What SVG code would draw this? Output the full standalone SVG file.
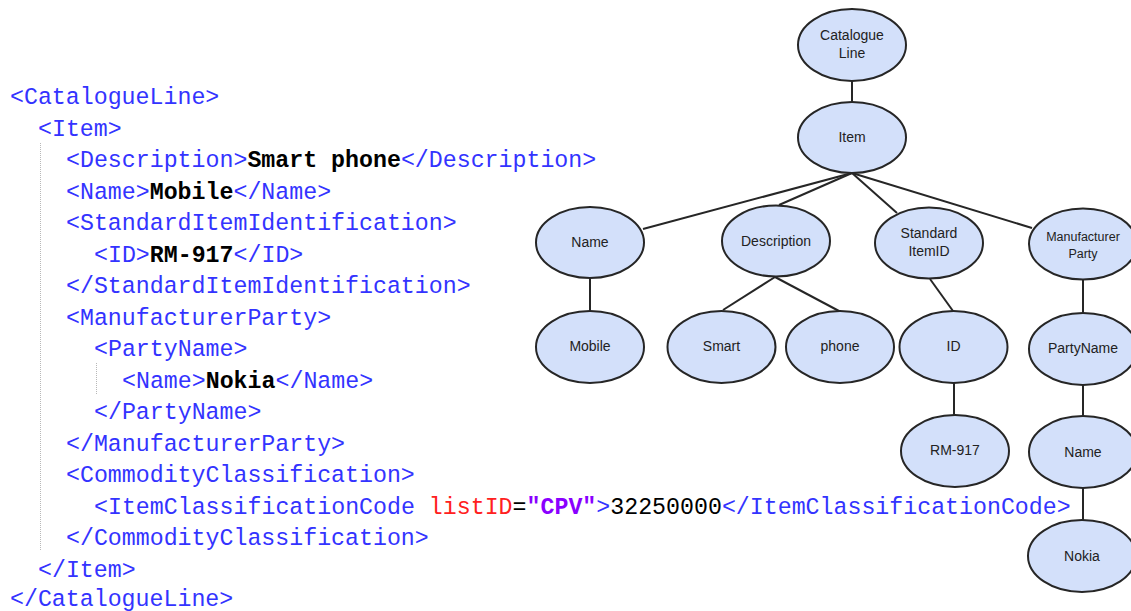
<svg xmlns="http://www.w3.org/2000/svg" width="1131" height="611" viewBox="0 0 1131 611">
<style>
.code{font-family:"Liberation Mono","Courier New",monospace;font-size:23.25px;fill:#3333ff;}
.b{font-weight:bold;fill:#000;}
.v{fill:#000;}
.an{fill:#ff2020;}
.av{fill:#8a00ff;font-weight:bold;}
.guide{stroke:#b8b8b8;stroke-width:1;stroke-dasharray:1 1;fill:none;}
.node ellipse{fill:#d3e0fa;stroke:#262626;stroke-width:2;}
.node text{font-family:"Liberation Sans",Arial,sans-serif;font-size:14px;fill:#222;text-anchor:middle;}
.node text.sm{font-size:12.5px;}
#connectors line{stroke:#262626;stroke-width:2;}
</style>
<rect width="1131" height="611" fill="#fff"/>
<g id="xml-code">
<line class="guide" x1="40.5" y1="143" x2="40.5" y2="550"/>
<line class="guide" x1="96.5" y1="363" x2="96.5" y2="395"/>
<text class="code" xml:space="preserve">
<tspan x="10" y="104">&lt;CatalogueLine&gt;</tspan>
<tspan x="38" y="135.5">&lt;Item&gt;</tspan>
<tspan x="66" y="167">&lt;Description&gt;<tspan class="b">Smart phone</tspan>&lt;/Description&gt;</tspan>
<tspan x="66" y="198.5">&lt;Name&gt;<tspan class="b">Mobile</tspan>&lt;/Name&gt;</tspan>
<tspan x="66" y="230">&lt;StandardItemIdentification&gt;</tspan>
<tspan x="94" y="261.5">&lt;ID&gt;<tspan class="b">RM-917</tspan>&lt;/ID&gt;</tspan>
<tspan x="66" y="293">&lt;/StandardItemIdentification&gt;</tspan>
<tspan x="66" y="324.5">&lt;ManufacturerParty&gt;</tspan>
<tspan x="94" y="356">&lt;PartyName&gt;</tspan>
<tspan x="122" y="387.5">&lt;Name&gt;<tspan class="b">Nokia</tspan>&lt;/Name&gt;</tspan>
<tspan x="94" y="419">&lt;/PartyName&gt;</tspan>
<tspan x="66" y="450.5">&lt;/ManufacturerParty&gt;</tspan>
<tspan x="66" y="482">&lt;CommodityClassification&gt;</tspan>
<tspan x="94" y="513.5">&lt;ItemClassificationCode <tspan class="an">listID</tspan><tspan class="v">=</tspan><tspan class="av">"CPV"</tspan>&gt;<tspan class="v">32250000</tspan>&lt;/ItemClassificationCode&gt;</tspan>
<tspan x="66" y="545">&lt;/CommodityClassification&gt;</tspan>
<tspan x="38" y="576.5">&lt;/Item&gt;</tspan>
<tspan x="10" y="606">&lt;/CatalogueLine&gt;</tspan>
</text>
</g>
<g id="connectors">
<line x1="852" y1="81" x2="852" y2="102"/>
<line x1="852" y1="173" x2="643" y2="229"/>
<line x1="852" y1="173" x2="779" y2="205"/>
<line x1="852" y1="173" x2="897" y2="213"/>
<line x1="852" y1="173" x2="1032" y2="228"/>
<line x1="590" y1="278" x2="590" y2="311"/>
<line x1="775" y1="277" x2="723" y2="310"/>
<line x1="775" y1="277" x2="839" y2="311"/>
<line x1="930" y1="279" x2="953" y2="311"/>
<line x1="954" y1="383" x2="954" y2="415"/>
<line x1="1083" y1="280" x2="1083" y2="313"/>
<line x1="1083" y1="385" x2="1083" y2="417"/>
<line x1="1083" y1="488" x2="1083" y2="520"/>
</g>
<g id="node-catalogueline" class="node"><ellipse cx="852" cy="45" rx="54" ry="36"/><text x="852" y="40">Catalogue</text><text x="852" y="58">Line</text></g>
<g id="node-item" class="node"><ellipse cx="852" cy="137.5" rx="54" ry="35.5"/><text x="852" y="142">Item</text></g>
<g id="node-name" class="node"><ellipse cx="590" cy="242.5" rx="54" ry="35.5"/><text x="590" y="247">Name</text></g>
<g id="node-description" class="node"><ellipse cx="776" cy="241" rx="54" ry="35.5"/><text x="776" y="246">Description</text></g>
<g id="node-standarditemid" class="node"><ellipse cx="929" cy="243" rx="54" ry="35.5"/><text x="929" y="238">Standard</text><text x="929" y="256">ItemID</text></g>
<g id="node-manufacturerparty" class="node"><ellipse cx="1083" cy="244" rx="54" ry="35.5"/><text class="sm" x="1083" y="241">Manufacturer</text><text class="sm" x="1083" y="258">Party</text></g>
<g id="node-mobile" class="node"><ellipse cx="590" cy="347" rx="54" ry="36"/><text x="590" y="351">Mobile</text></g>
<g id="node-smart" class="node"><ellipse cx="721.5" cy="347" rx="54" ry="36"/><text x="721.5" y="351">Smart</text></g>
<g id="node-phone" class="node"><ellipse cx="840" cy="347" rx="54" ry="36"/><text x="840" y="351">phone</text></g>
<g id="node-id" class="node"><ellipse cx="953.5" cy="347" rx="54" ry="36"/><text x="953.5" y="351">ID</text></g>
<g id="node-partyname" class="node"><ellipse cx="1083" cy="349" rx="54" ry="36"/><text x="1083" y="353">PartyName</text></g>
<g id="node-rm917" class="node"><ellipse cx="955" cy="451" rx="54" ry="36"/><text x="955" y="455">RM-917</text></g>
<g id="node-name2" class="node"><ellipse cx="1083" cy="452" rx="54" ry="36"/><text x="1083" y="457">Name</text></g>
<g id="node-nokia" class="node"><ellipse cx="1082" cy="556" rx="54" ry="36"/><text x="1082" y="561">Nokia</text></g>
</svg>
